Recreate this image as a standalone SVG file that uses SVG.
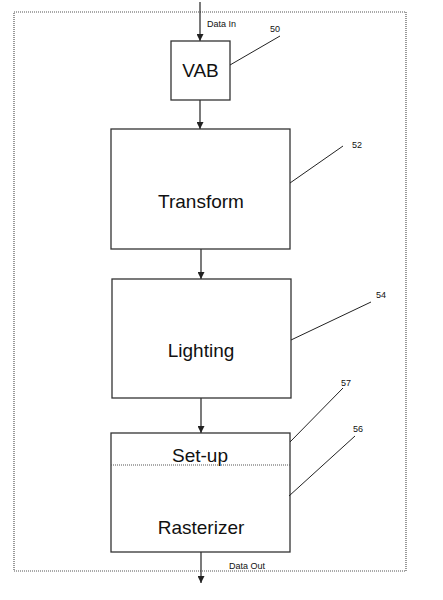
<svg xmlns="http://www.w3.org/2000/svg" width="443" height="600" viewBox="0 0 443 600">
<defs>
<marker id="ah" viewBox="0 0 10 10" refX="10" refY="5" markerWidth="7" markerHeight="7" markerUnits="userSpaceOnUse" orient="auto">
<path d="M0,0 L10,5 L0,10 z" fill="#222"/>
</marker>
</defs>
<style>
.box{fill:#fff;stroke:#333;stroke-width:1.3}
.lbl{font-family:"Liberation Sans",Arial,sans-serif;font-size:19px;fill:#111;text-anchor:middle}
.sm{font-family:"Liberation Sans",Arial,sans-serif;font-size:9px;fill:#111}
.ld{stroke:#222;stroke-width:1;fill:none}
.ar{stroke:#222;stroke-width:1.2;fill:none;marker-end:url(#ah)}
.dot{fill:none;stroke:#555;stroke-width:1.2;stroke-dasharray:1,1}
</style>
<rect id="border" class="dot" x="14" y="12" width="392" height="559"/>
<g id="connectors">
<line class="ar" x1="200" y1="2" x2="200" y2="41"/>
<line class="ar" x1="200" y1="100" x2="200" y2="129"/>
<line class="ar" x1="201" y1="249" x2="201" y2="279"/>
<line class="ar" x1="201" y1="398" x2="201" y2="433"/>
<line class="ar" x1="201" y1="552" x2="201" y2="583"/>
<text class="sm" x="207" y="27">Data In</text>
<text class="sm" x="229" y="569">Data Out</text>
</g>
<g id="vab">
<rect class="box" x="171" y="41" width="59" height="59"/>
<text class="lbl" x="200.5" y="77">VAB</text>
<line class="ld" x1="230" y1="65" x2="280" y2="36"/>
<text class="sm" x="270" y="32">50</text>
</g>
<g id="transform">
<rect class="box" x="111" y="129" width="179" height="120"/>
<text class="lbl" x="201" y="208">Transform</text>
<line class="ld" x1="290" y1="183" x2="343" y2="146"/>
<text class="sm" x="352" y="148">52</text>
</g>
<g id="lighting">
<rect class="box" x="112" y="279" width="179" height="119"/>
<text class="lbl" x="201" y="357">Lighting</text>
<line class="ld" x1="291" y1="340" x2="371" y2="302"/>
<text class="sm" x="376" y="298">54</text>
</g>
<g id="rasterizer">
<rect class="box" x="111" y="433" width="179" height="119"/>
<line class="dot" x1="111" y1="465" x2="290" y2="465"/>
<text class="lbl" x="200" y="462">Set-up</text>
<text class="lbl" x="201" y="534">Rasterizer</text>
<line class="ld" x1="343" y1="388" x2="290" y2="442"/>
<text class="sm" x="341" y="386">57</text>
<line class="ld" x1="355" y1="436" x2="289" y2="496"/>
<text class="sm" x="353" y="432">56</text>
</g>
</svg>
